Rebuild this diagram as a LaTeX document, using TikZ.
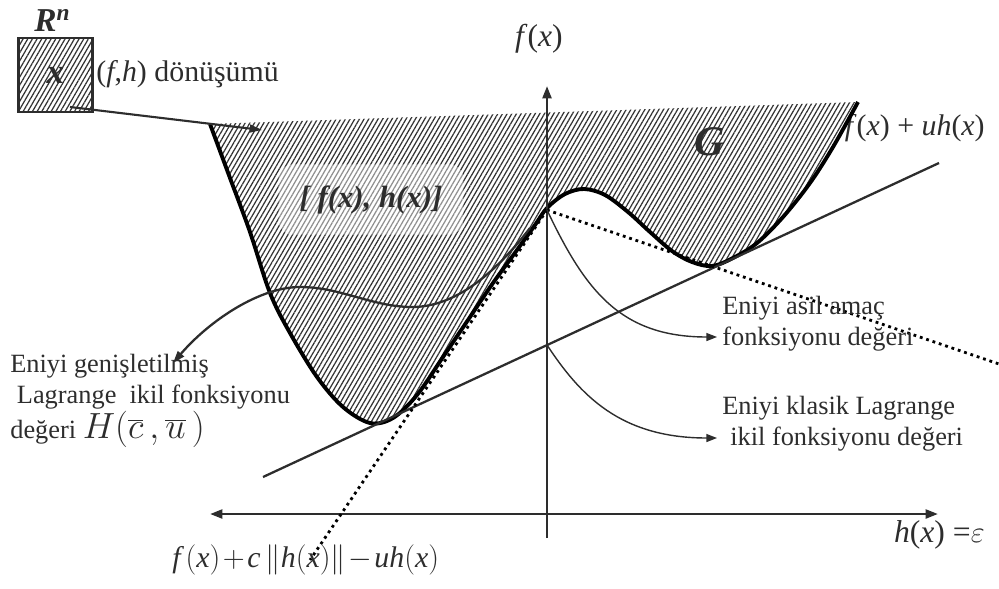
\documentclass[tikz,border=0pt]{standalone}
\usepackage{fontspec}
\setmainfont{Liberation Serif}
\usetikzlibrary{arrows.meta,patterns.meta}
\definecolor{inkgray}{RGB}{45,45,45}
\tikzset{
    hatch/.style={
        preaction={fill=white},
        pattern={Lines[angle=60,distance=2.3pt,line width=0.7pt]},
        pattern color=black!80
    },
    axis/.style={line width=1.5pt,draw=inkgray},
    axistip/.style={-{Triangle[length=7pt,width=5pt]}},
    well/.style={line width=2.2pt,draw=black},
    touch/.style={line width=1.3pt,draw=inkgray},
    dotline/.style={line width=1.6pt,draw=black,dash pattern=on 1.6pt off 2.2pt},
    pointer/.style={line width=0.8pt,draw=inkgray,-{Triangle[length=6pt,width=4.5pt]}},
    txt/.style={text=inkgray,inner sep=0pt,font=\fontsize{15}{17.5}\selectfont},
    mathtxt/.style={text=inkgray,inner sep=0pt,font=\fontsize{17}{20}\selectfont}
}

\begin{document}
\begin{tikzpicture}[x=0.02cm,y=-0.02cm]
\useasboundingbox (0,0) rectangle (999,588);

% label partly hidden by the region
\node[mathtxt,anchor=base east] (fuhlbl) at (985,135) {\textit{f}(\textit{x}) + \textit{uh}(\textit{x})};

% the image set G
\draw[well,hatch] plot[smooth,tension=0.55] coordinates {
    (210,124) (230,178) (250,232) (270,293) (290,333) (317,377)
    (343,407) (370,423) (393,418) (417,395) (443,357) (470,317)
    (493,283) (517,250) (535,225) (547,208) (565,194) (584,189)
    (605,195) (628,212) (650,232) (672,251) (692,262) (712,266)
    (733,258) (757,243) (783,217) (810,183) (833,147) (858,102)};

\node[text=inkgray,inner sep=12pt,fill=white,fill opacity=0.45,text opacity=1,rounded corners=8pt,
      font=\fontsize{17.5}{20}\selectfont\bfseries\itshape,anchor=base]
    (pairlbl) at (371,207) {[ \textit{f}(\textit{x}), \textit{h}(\textit{x})]};
\node[text=inkgray,inner sep=0pt,font=\fontsize{24}{26}\selectfont\bfseries\itshape,anchor=base]
    (glbl) at (710,155) {G};

% the set R^n
\node[draw=inkgray,line width=1.5pt,hatch,minimum size=1.48cm,inner sep=0pt,
      text=inkgray,font=\fontsize{20}{22}\selectfont\bfseries\itshape]
    (box) at (55.5,75) {x};
\node[text=inkgray,inner sep=0pt,font=\fontsize{19}{21}\selectfont\bfseries\itshape,anchor=base west]
    (rn) at (34,32) {R\textsuperscript{n}};
\node[txt,font=\fontsize{17}{20}\selectfont,anchor=base west] (maplbl) at (96,82)
    {(\textit{f},\textit{h}) dönüşümü};
\coordinate (mapstart) at (70,107);
\coordinate (mapend) at (262,130);
\draw[line width=1.2pt,draw=inkgray,-{Triangle[length=7pt,width=4.5pt]}] (mapstart) -- (mapend);

% axes
\coordinate (ybot) at (547,538);
\coordinate (ytop) at (547,86);
\coordinate (xleft) at (210,514);
\coordinate (xright) at (938,514);
\draw[axis,axistip] (ybot) -- (ytop);
\draw[axis,{Triangle[length=7pt,width=5pt]}-{Triangle[length=7pt,width=5pt]}] (xleft) -- (xright);
\node[mathtxt,font=\fontsize{18}{20}\selectfont,anchor=base] (fxlbl) at (539,47) {\textit{f}(\textit{x})};
\node[mathtxt,font=\fontsize{18}{20}\selectfont,anchor=base east] (hlbl) at (985,542)
    {\textit{h}(\textit{x}) =$\varepsilon$};

% supporting lines
\coordinate (tanL) at (263,477);
\coordinate (tanR) at (939,163);
\coordinate (lagr) at (547,345);
\coordinate (top) at (547,210);
\coordinate (dotend) at (310,560);
\coordinate (dotfar) at (999,364);
\draw[touch] (tanL) -- (tanR);
\draw[dotline] (top) -- (dotend);
\draw[dotline] (top) -- (dotfar);

% augmented Lagrangian curve
\coordinate (wavestart) at (530,228);
\coordinate (augtip) at (173,363);
\draw[line width=1.3pt,draw=inkgray,-{Triangle[length=7pt,width=4.5pt]}] (wavestart)
    .. controls (490,280) and (450,308) .. (410,307)
    .. controls (370,306) and (340,287) .. (300,287)
    .. controls (260,287) and (210,320) .. (augtip);

% pointers
\coordinate (primtip) at (717,337);
\coordinate (classtip) at (717,438);
\draw[pointer] (top) .. controls (585,290) and (620,337) .. (primtip);
\draw[pointer] (lagr) .. controls (580,395) and (620,438) .. (classtip);

% texts
\node[txt,align=left,anchor=north west] (auglbl) at (10,354)
    {Eniyi genişletilmiş\\
     \hspace*{0.25em}Lagrange\ \ ikil fonksiyonu\\
     değeri {\fontsize{20}{17.5}\selectfont$H(\overline{c}\,,\overline{u}\,)$}};
\node[txt,align=left,anchor=north west] (primlbl) at (722,296)
    {Eniyi asil amaç\\fonksiyonu değeri};
\node[txt,align=left,anchor=north west] (classlbl) at (722,396)
    {Eniyi klasik Lagrange\\\hspace*{0.3em}ikil fonksiyonu değeri};
\node[mathtxt,font=\fontsize{17}{20}\selectfont,anchor=base west] (penlbl) at (172,567)
    {$\medmuskip=1.5mu\relax\textit{f}\,(\textit{x})+\textit{c}\,\|\textit{h}(\textit{x})\|-\textit{uh}(\textit{x})$};

\end{tikzpicture}
\end{document}
